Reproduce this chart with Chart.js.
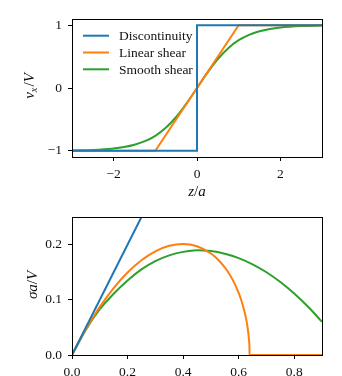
<!DOCTYPE html>
<html>
<head>
<meta charset="utf-8">
<script src="https://cdn.jsdelivr.net/npm/chart.js@4.4.1/dist/chart.umd.min.js"></script>
<style>
  html, body { margin: 0; padding: 0; background: #fff; }
  #wrap { position: relative; width: 342px; height: 376px; }
  canvas { position: absolute; left: 0; }
  #top { top: 0; }
  #bottom { top: 188px; }
</style>
</head>
<body>
<div id="wrap">
  <canvas id="top" width="342" height="200"></canvas>
  <canvas id="bottom" width="342" height="188"></canvas>
</div>
<script>
// top panel: velocity profiles v_x/V against z/a
const zDisc = [-3, 0, 0, 3];
const vDisc = [-1, -1, 1, 1];
const zLin = [-3, -1, 1, 3];
const vLin = [-1, -1, 1, 1];
const zSmooth = [-3, -2.5, -2, -1.75, -1.5, -1.25, -1, -0.75, -0.5, -0.25, 0, 0.25, 0.5, 0.75, 1, 1.25, 1.5, 1.75, 2, 2.5, 3];
const vSmooth = [-0.995, -0.987, -0.964, -0.941, -0.905, -0.848, -0.762, -0.635, -0.462, -0.245, 0, 0.245, 0.462, 0.635, 0.762, 0.848, 0.905, 0.941, 0.964, 0.987, 0.995];
const topXTicks = [-2, 0, 2];
const topYTicks = [-1, 0, 1];

// bottom panel: growth rate sigma a/V
const kDisc = [0, 0.25];
const sDisc = [0, 0.25];
const kLin = [0, 0.02, 0.05, 0.1, 0.15, 0.2, 0.25, 0.3, 0.35, 0.4, 0.45, 0.5, 0.52, 0.55, 0.56, 0.58, 0.6, 0.61, 0.62, 0.625, 0.63, 0.635, 0.637, 0.639, 0.6392, 0.9];
const sLin = [0, 0.0195, 0.0467, 0.0871, 0.1213, 0.1494, 0.1717, 0.1879, 0.1979, 0.2012, 0.1970, 0.1839, 0.1756, 0.1587, 0.1517, 0.1348, 0.1126, 0.0984, 0.0808, 0.0700, 0.0567, 0.0386, 0.0282, 0.0092, 0, 0];
const kSmooth = [0, 0.05, 0.1, 0.15, 0.2, 0.25, 0.3, 0.35, 0.4, 0.45, 0.5, 0.55, 0.6, 0.65, 0.7, 0.75, 0.8, 0.85, 0.9];
const sSmooth = [0, 0.046, 0.083, 0.111, 0.135, 0.155, 0.170, 0.1805, 0.1868, 0.1897, 0.1882, 0.1834, 0.1756, 0.1643, 0.1499, 0.1322, 0.1114, 0.0873, 0.060];
const botXTicks = [0, 0.2, 0.4, 0.6, 0.8];
const botYTicks = [0, 0.1, 0.2];

const labels = ['Discontinuity', 'Linear shear', 'Smooth shear'];
const colors = ['#1f77b4', '#ff7f0e', '#2ca02c'];

const FONT = '"Liberation Serif", "DejaVu Serif", serif';
const TICK_SIZE = 13.5;
const TITLE_SIZE = 15;

function pts(xs, ys) {
  return xs.map((x, i) => ({ x: x, y: ys[i] }));
}

function fmtMinus(s) {
  return String(s).replace('-', '\u2212');
}

// draws pieces like [{t:'v', it:true}, {t:'x', it:true, sub:true}] centred on 0
function drawRuns(ctx, runs, size) {
  let w = 0;
  runs.forEach(r => {
    ctx.font = (r.it ? 'italic ' : '') + (r.sub ? size * 0.7 : size) + 'px ' + FONT;
    w += ctx.measureText(r.t).width + (r.gap || 0);
  });
  let x = -w / 2;
  runs.forEach(r => {
    ctx.font = (r.it ? 'italic ' : '') + (r.sub ? size * 0.7 : size) + 'px ' + FONT;
    ctx.fillText(r.t, x, r.sub ? size * 0.22 : 0);
    x += ctx.measureText(r.t).width + (r.gap || 0);
  });
}

const frame = {
  id: 'frame',
  afterDraw(chart) {
    const a = chart.chartArea;
    const ctx = chart.ctx;
    ctx.save();
    ctx.strokeStyle = '#000';
    ctx.lineWidth = 1;
    ctx.strokeRect(Math.round(a.left) + 0.5, Math.round(a.top) + 0.5,
      Math.round(a.right - a.left), Math.round(a.bottom - a.top));
    ctx.restore();
  }
};

const extras = {
  id: 'extras',
  afterDraw(chart, args, opts) {
    const ctx = chart.ctx;
    ctx.save();
    ctx.fillStyle = '#111';
    ctx.textBaseline = 'alphabetic';
    if (opts.legend) {
      labels.forEach((l, i) => {
        const y = 35.7 + i * 16.8;
        ctx.strokeStyle = colors[i];
        ctx.lineWidth = 2;
        ctx.beginPath();
        ctx.moveTo(83, y);
        ctx.lineTo(109, y);
        ctx.stroke();
        ctx.font = '13.5px ' + FONT;
        ctx.textBaseline = 'middle';
        ctx.fillText(l, 119, y + 1);
      });
      ctx.textBaseline = 'alphabetic';
    }
    if (opts.xTitle) {
      ctx.save();
      ctx.translate(opts.xTitle.x, opts.xTitle.y);
      drawRuns(ctx, opts.xTitle.runs, TITLE_SIZE);
      ctx.restore();
    }
    if (opts.yTitle) {
      ctx.save();
      ctx.translate(opts.yTitle.x, opts.yTitle.y);
      ctx.rotate(-Math.PI / 2);
      drawRuns(ctx, opts.yTitle.runs, TITLE_SIZE);
      ctx.restore();
    }
    ctx.restore();
  }
};

function scaleOpts(min, max, ticks, fmt, fitSize, isX) {
  return {
    type: 'linear',
    min: min,
    max: max,
    afterBuildTicks: s => { s.ticks = ticks.map(v => ({ value: v })); },
    afterFit: s => { if (isX) s.height = fitSize; else s.width = fitSize; },
    grid: { drawOnChartArea: false, drawTicks: true, tickLength: 4, tickColor: '#000', tickWidth: 1 },
    border: { display: false },
    ticks: {
      color: '#111',
      padding: isX ? 5 : 6,
      font: { family: FONT, size: TICK_SIZE },
      callback: v => fmtMinus(fmt(v))
    }
  };
}

function lineSet(i, data, smooth) {
  return {
    label: labels[i],
    data: data,
    borderColor: colors[i],
    backgroundColor: colors[i],
    borderWidth: 2,
    pointRadius: 0,
    fill: false,
    tension: 0,
    cubicInterpolationMode: smooth ? 'monotone' : 'default',
    clip: { left: 0, top: 0, right: 0, bottom: 2 }
  };
}

const common = {
  responsive: false,
  animation: false,
  events: [],
  plugins: { legend: { display: false }, tooltip: { enabled: false } }
};

new Chart(document.getElementById('top'), {
  type: 'line',
  data: {
    datasets: [
      lineSet(0, pts(zDisc, vDisc), false),
      lineSet(1, pts(zLin, vLin), false),
      lineSet(2, pts(zSmooth, vSmooth), true)
    ]
  },
  options: Object.assign({}, common, {
    layout: { padding: { top: 19, right: 20, left: 0, bottom: 0 } },
    scales: {
      x: scaleOpts(-3, 3, topXTicks, v => v, 43, true),
      y: scaleOpts(-1.1, 1.1, topYTicks, v => v, 72, false)
    },
    plugins: Object.assign({}, common.plugins, {
      extras: {
        legend: true,
        xTitle: { x: 197, y: 196, runs: [{ t: 'z', it: true }, { t: '/' }, { t: 'a', it: true }] },
        yTitle: { x: 34, y: 86, runs: [{ t: 'v', it: true }, { t: 'x', it: true, sub: true, gap: 1 }, { t: '/' }, { t: 'V', it: true }] }
      }
    })
  }),
  plugins: [frame, extras]
});

new Chart(document.getElementById('bottom'), {
  type: 'line',
  data: {
    datasets: [
      lineSet(0, pts(kDisc, sDisc), false),
      lineSet(1, pts(kLin, sLin), true),
      lineSet(2, pts(kSmooth, sSmooth), true)
    ]
  },
  options: Object.assign({}, common, {
    layout: { padding: { top: 29, right: 20, left: 0, bottom: 0 } },
    scales: {
      x: scaleOpts(0, 0.9, botXTicks, v => v.toFixed(1), 21, true),
      y: scaleOpts(0, 0.25, botYTicks, v => v.toFixed(1), 72, false)
    },
    plugins: Object.assign({}, common.plugins, {
      extras: {
        yTitle: { x: 37, y: 97, runs: [{ t: '\u03c3', it: true }, { t: 'a', it: true }, { t: '/' }, { t: 'V', it: true }] }
      }
    })
  }),
  plugins: [frame, extras]
});
</script>
</body>
</html>
